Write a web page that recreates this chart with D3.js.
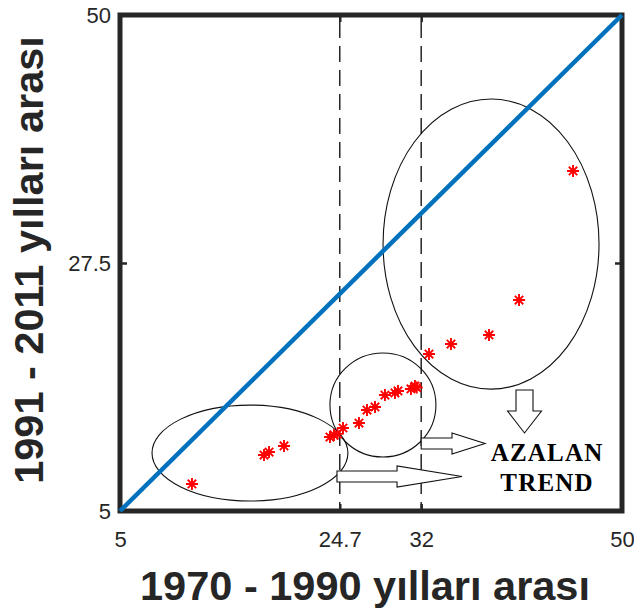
<!DOCTYPE html>
<html>
<head>
<meta charset="utf-8">
<script src="https://cdn.jsdelivr.net/npm/d3@7"></script>
<style>
  html, body { margin: 0; padding: 0; background: #fff; }
  svg { display: block; }
</style>
</head>
<body>
<svg id="chart" width="634" height="612"></svg>
<script>
// ---- data ----
const xValues = [11.45, 17.91, 18.36, 19.70, 23.82, 24.18, 24.50, 24.99, 26.42, 27.14, 27.86,
                 28.75, 29.65, 29.92, 31.08, 31.44, 31.60, 32.70, 34.67, 38.08, 40.77, 45.61];
const yValues = [7.45, 10.08, 10.35, 10.90, 11.71, 11.90, 12.00, 12.53, 12.98, 14.16, 14.44,
                 15.52, 15.71, 15.89, 16.07, 16.34, 16.20, 19.24, 20.15, 20.97, 24.14, 35.85];
const xTicks = [5, 24.7, 32, 50];
const yTicks = [5, 27.5, 50];
const xDomain = [5, 50];
const yDomain = [5, 50];
const dashedLineX = [24.7, 32];
const xTitle = "1970 - 1990 yılları arası";
const yTitle = "1991 - 2011 yılları arası";
const annotationLines = ["AZALAN", "TREND"];
// ellipse annotations (data units): center x, center y, radius x, radius y
const ellipseCx = [16.65, 28.57, 38.26];
const ellipseCy = [10.26, 14.62, 29.22];
const ellipseRx = [8.78, 4.75, 9.68];
const ellipseRy = [4.35, 4.72, 13.16];
// arrow annotations (data units): tail -> tip
const arrowTailX = [41.26, 32.0, 24.45];
const arrowTailY = [15.98, 11.12, 8.13];
const arrowTipX  = [41.26, 37.72, 35.66];
const arrowTipY  = [12.08, 11.12, 8.13];

// ---- layout ----
const svg = d3.select("#chart");
const mLeft = 120, mRight = 622, mTop = 15, mBottom = 511;
const x = d3.scaleLinear().domain(xDomain).range([mLeft, mRight]);
const y = d3.scaleLinear().domain(yDomain).range([mBottom, mTop]);
const ink = "#262626";
const tickFont = "Liberation Sans, Arial, Helvetica, sans-serif";

// dashed vertical lines
svg.append("g").selectAll("line").data(dashedLineX).join("line")
  .attr("x1", d => x(d)).attr("x2", d => x(d))
  .attr("y1", y(yDomain[1])).attr("y2", y(yDomain[0]))
  .attr("stroke", ink).attr("stroke-width", 1.5)
  .attr("stroke-dasharray", "16,8").attr("stroke-dashoffset", -7);

// ellipses
const ellData = ellipseCx.map((cx, i) => ({cx, cy: ellipseCy[i], rx: ellipseRx[i], ry: ellipseRy[i]}));
svg.append("g").selectAll("ellipse").data(ellData).join("ellipse")
  .attr("cx", d => x(d.cx)).attr("cy", d => y(d.cy))
  .attr("rx", d => x(d.cx + d.rx) - x(d.cx))
  .attr("ry", d => y(d.cy) - y(d.cy + d.ry))
  .attr("fill", "none").attr("stroke", "#111").attr("stroke-width", 1.1);

// block arrows
const arrowSizes = [ {sw: 8.5, hw: 17, hl: 22}, {sw: 5.5, hw: 10.5, hl: 33}, {sw: 5.5, hw: 10.5, hl: 65} ];
function arrowPath(x0, y0, x1, y1, s) {
  const dx = x1 - x0, dy = y1 - y0, L = Math.hypot(dx, dy);
  const ux = dx / L, uy = dy / L, nx = -uy, ny = ux;
  const b = L - s.hl;
  const P = (a, n) => [x0 + ux * a + nx * n, y0 + uy * a + ny * n];
  const pts = [P(0, -s.sw), P(b, -s.sw), P(b, -s.hw), P(L, 0), P(b, s.hw), P(b, s.sw), P(0, s.sw)];
  return "M" + pts.map(p => p.join(",")).join("L") + "Z";
}
svg.append("g").selectAll("path").data(arrowTailX.map((_, i) => i)).join("path")
  .attr("d", i => arrowPath(x(arrowTailX[i]), y(arrowTailY[i]), x(arrowTipX[i]), y(arrowTipY[i]), arrowSizes[i]))
  .attr("fill", "#fff").attr("stroke", "#111").attr("stroke-width", 1.1);

// AZALAN TREND text
svg.append("g").selectAll("text").data(annotationLines).join("text")
  .attr("x", x(43.28)).attr("y", (d, i) => y(9.55) + i * 30)
  .attr("text-anchor", "middle")
  .attr("font-family", "Liberation Serif, 'Times New Roman', serif")
  .attr("font-weight", "bold").attr("font-size", 25).attr("letter-spacing", 1.2)
  .attr("fill", "#000").text(d => d);

// axes (ticks + labels)
function styleAxis(g) {
  g.select(".domain").remove();
  g.selectAll(".tick line").attr("stroke", ink).attr("stroke-width", 2.5);
  g.selectAll(".tick text").attr("fill", ink).attr("font-family", tickFont).attr("font-size", 22);
}
svg.append("g").attr("transform", `translate(0,${mBottom})`)
  .call(d3.axisBottom(x).tickValues(xTicks).tickFormat(d3.format("")).tickSizeInner(-7).tickSizeOuter(0).tickPadding(20))
  .call(styleAxis);
svg.append("g").attr("transform", `translate(0,${mTop})`)
  .call(d3.axisTop(x).tickValues(xTicks).tickFormat("").tickSizeInner(-7).tickSizeOuter(0))
  .call(styleAxis);
svg.append("g").attr("transform", `translate(${mLeft},0)`)
  .call(d3.axisLeft(y).tickValues(yTicks).tickFormat(d3.format("")).tickSizeInner(-7).tickSizeOuter(0).tickPadding(9))
  .call(styleAxis);
svg.append("g").attr("transform", `translate(${mRight},0)`)
  .call(d3.axisRight(y).tickValues(yTicks).tickFormat("").tickSizeInner(-7).tickSizeOuter(0))
  .call(styleAxis);

// frame
svg.append("rect").attr("x", mLeft).attr("y", mTop)
  .attr("width", mRight - mLeft).attr("height", mBottom - mTop)
  .attr("fill", "none").attr("stroke", ink).attr("stroke-width", 5);

// 1:1 line
svg.append("line")
  .attr("x1", x(xDomain[0])).attr("y1", y(yDomain[0]))
  .attr("x2", x(xDomain[1])).attr("y2", y(yDomain[1]))
  .attr("stroke", "#0072BD").attr("stroke-width", 4.5);

// asterisk markers
const r = 6;
const asterisk = `M${-r},0L${r},0M0,${-r}L0,${r}M${-r*0.7},${-r*0.7}L${r*0.7},${r*0.7}M${-r*0.7},${r*0.7}L${r*0.7},${-r*0.7}`;
svg.append("g").selectAll("path").data(xValues.map((v, i) => [v, yValues[i]])).join("path")
  .attr("transform", d => `translate(${x(d[0])},${y(d[1])})`)
  .attr("d", asterisk).attr("fill", "none").attr("stroke", "#ff0000").attr("stroke-width", 1.9);

// axis titles
svg.append("text").attr("x", 365).attr("y", 600)
  .attr("text-anchor", "middle").attr("font-family", tickFont).attr("font-weight", "bold")
  .attr("font-size", 41.5).attr("fill", ink).text(xTitle);
svg.append("text").attr("transform", "translate(43,260) rotate(-90)")
  .attr("text-anchor", "middle").attr("font-family", tickFont).attr("font-weight", "bold")
  .attr("font-size", 41.5).attr("fill", ink).text(yTitle);
</script>
</body>
</html>
